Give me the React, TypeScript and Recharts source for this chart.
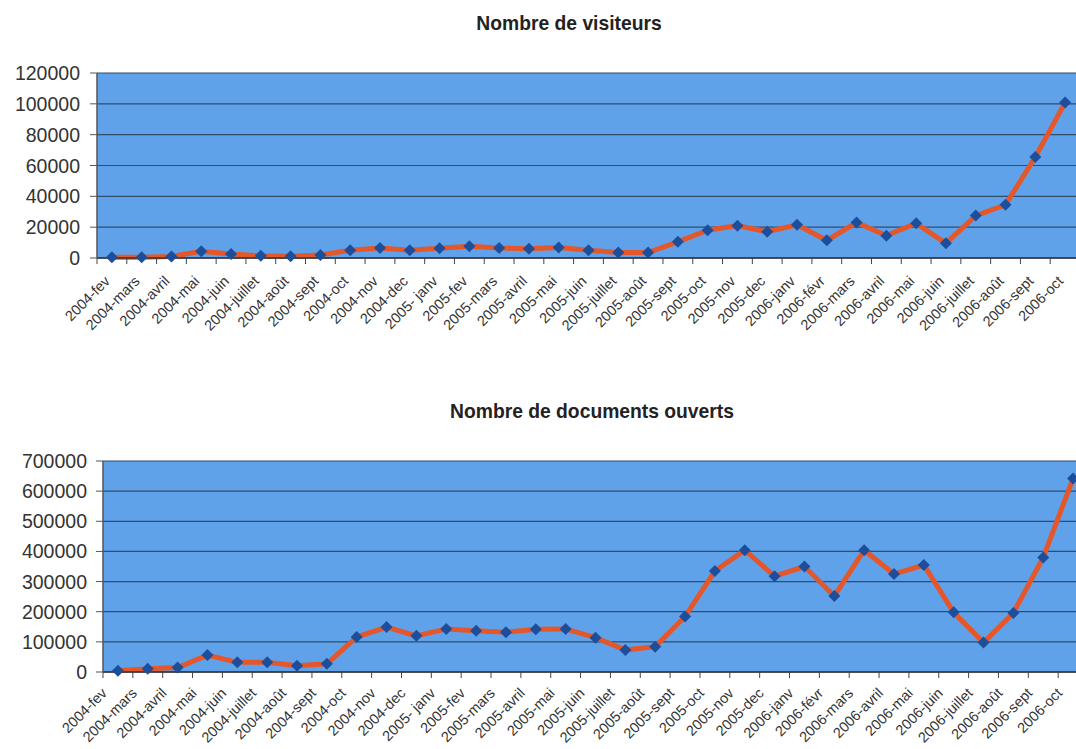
import React from "react";
import { CartesianGrid, Line, LineChart, XAxis, YAxis } from "recharts";

const months = [
  "2004-fev", "2004-mars", "2004-avril", "2004-mai", "2004-juin", "2004-juillet",
  "2004-août", "2004-sept", "2004-oct", "2004-nov", "2004-dec", "2005- janv",
  "2005-fev", "2005-mars", "2005-avril", "2005-mai", "2005-juin", "2005-juillet",
  "2005-août", "2005-sept", "2005-oct", "2005-nov", "2005-dec", "2006-janv",
  "2006-févr", "2006-mars", "2006-avril", "2006-mai", "2006-juin", "2006-juillet",
  "2006-août", "2006-sept", "2006-oct",
];

const visiteurs = [
  500, 500, 1000, 4300, 2600, 1500, 1100, 2000, 5000, 6500, 5000, 6300,
  7600, 6500, 6000, 6800, 5000, 3500, 3500, 10500, 18000, 21000, 17000, 21500,
  11500, 23000, 14500, 22500, 9500, 27500, 34500, 65500, 100800,
];

const documents = [
  4000, 11000, 15000, 56000, 32000, 32000, 21000, 27000, 116000, 149000, 120000, 143000,
  137000, 132000, 142000, 143000, 114000, 73000, 84000, 184000, 335000, 404000, 318000, 350000,
  252000, 404000, 325000, 355000, 198000, 98000, 196000, 380000, 642000,
];

const visiteursTicks = [0, 20000, 40000, 60000, 80000, 100000, 120000];
const documentsTicks = [0, 100000, 200000, 300000, 400000, 500000, 600000, 700000];

const visiteursData = months.map((m, i) => ({ mois: m, valeur: visiteurs[i] }));
const documentsData = months.map((m, i) => ({ mois: m, valeur: documents[i] }));

const FONT = "'Liberation Sans', Arial, sans-serif";
const PLOT_BG = "#60a2ea";
const GRID = "#314d6c";
const LINE = "#e4572a";
const DOT = "#1c4e9b";

// diamond marker, position comes from recharts
const Diamond = (props: any) => {
  const { cx, cy, index } = props;
  if (cx == null || cy == null) return <g key={index} />;
  const s = 6;
  return (
    <path
      key={index}
      d={`M${cx},${cy - s} L${cx + s},${cy} L${cx},${cy + s} L${cx - s},${cy} Z`}
      fill={DOT}
    />
  );
};

const makeXTick = (half: number, dx: number, dy: number) => (props: any) => {
  const { x, y, payload, index } = props;
  const axisY = y - 6;
  return (
    <g>
      <line x1={x + half} y1={axisY} x2={x + half} y2={axisY + 6} stroke="#444" />
      {index === 0 && <line x1={x - half} y1={axisY} x2={x - half} y2={axisY + 6} stroke="#444" />}
      <text
        transform={`translate(${x + dx},${axisY + dy}) rotate(-45)`}
        textAnchor="end"
        style={{ fontSize: 14.5, fontFamily: FONT }}
        fill="#333"
      >
        {payload.value}
      </text>
    </g>
  );
};

const YTick = (props: any) => {
  const { x, y, payload } = props;
  return (
    <text
      x={x}
      y={y}
      dy="0.36em"
      textAnchor="end"
      style={{ fontSize: 19.5, fontFamily: FONT }}
      fill="#333"
    >
      {payload.value}
    </text>
  );
};

type PanelProps = {
  data: { mois: string; valeur: number }[];
  ticks: number[];
  top: number;
  width: number;
  height: number;
  marginTop: number;
  marginRight: number;
  yWidth: number;
  labelGap: number;
  labelDx: number;
  labelDy: number;
};

function Panel(p: PanelProps) {
  const half = (p.width - p.yWidth - p.marginRight) / p.data.length / 2;
  return (
    <div style={{ position: "absolute", left: 0, top: p.top }}>
      <LineChart
        width={p.width}
        height={p.height}
        data={p.data}
        margin={{ top: p.marginTop, right: p.marginRight, bottom: 0, left: 0 }}
      >
        <CartesianGrid vertical={false} fill={PLOT_BG} stroke={GRID} strokeWidth={1.2} />
        <XAxis
          dataKey="mois"
          interval={0}
          height={80}
          padding={{ left: half, right: half }}
          tickLine={false}
          tickSize={6}
          tickMargin={0}
          axisLine={{ stroke: "#333", strokeWidth: 1.5 }}
          tick={makeXTick(half, p.labelDx, p.labelDy)}
        />
        <YAxis
          width={p.yWidth}
          domain={[p.ticks[0], p.ticks[p.ticks.length - 1]]}
          ticks={p.ticks}
          interval={0}
          tickSize={7}
          tickMargin={p.labelGap}
          axisLine={{ stroke: "#555", strokeWidth: 1.5 }}
          tickLine={{ stroke: "#555" }}
          tick={YTick}
        />
        <Line
          type="linear"
          dataKey="valeur"
          stroke={LINE}
          strokeWidth={5}
          dot={Diamond}
          activeDot={false}
          isAnimationActive={false}
        />
      </LineChart>
    </div>
  );
}

const titleStyle: React.CSSProperties = {
  position: "absolute",
  textAlign: "center",
  fontFamily: FONT,
  fontWeight: "bold",
  fontSize: 19.3,
  color: "#222",
};

export default function App() {
  return (
    <div
      style={{
        position: "absolute",
        left: 0,
        top: 0,
        width: 1076,
        height: 749,
        overflow: "hidden",
        background: "#fff",
      }}
    >
      <div style={{ ...titleStyle, left: 569 - 200, width: 400, top: 13 }}>Nombre de visiteurs</div>
      <Panel
        data={visiteursData}
        ticks={visiteursTicks}
        top={0}
        width={1100}
        height={73 + 185 + 80}
        marginTop={73}
        marginRight={20}
        yWidth={97}
        labelGap={10}
        labelDx={-1}
        labelDy={24}
      />
      <div style={{ ...titleStyle, left: 592 - 200, width: 400, top: 401 }}>
        Nombre de documents ouverts
      </div>
      <Panel
        data={documentsData}
        ticks={documentsTicks}
        top={390}
        width={1100}
        height={71 + 211 + 80}
        marginTop={71}
        marginRight={12}
        yWidth={103}
        labelGap={9}
        labelDx={-10}
        labelDy={22}
      />
    </div>
  );
}
